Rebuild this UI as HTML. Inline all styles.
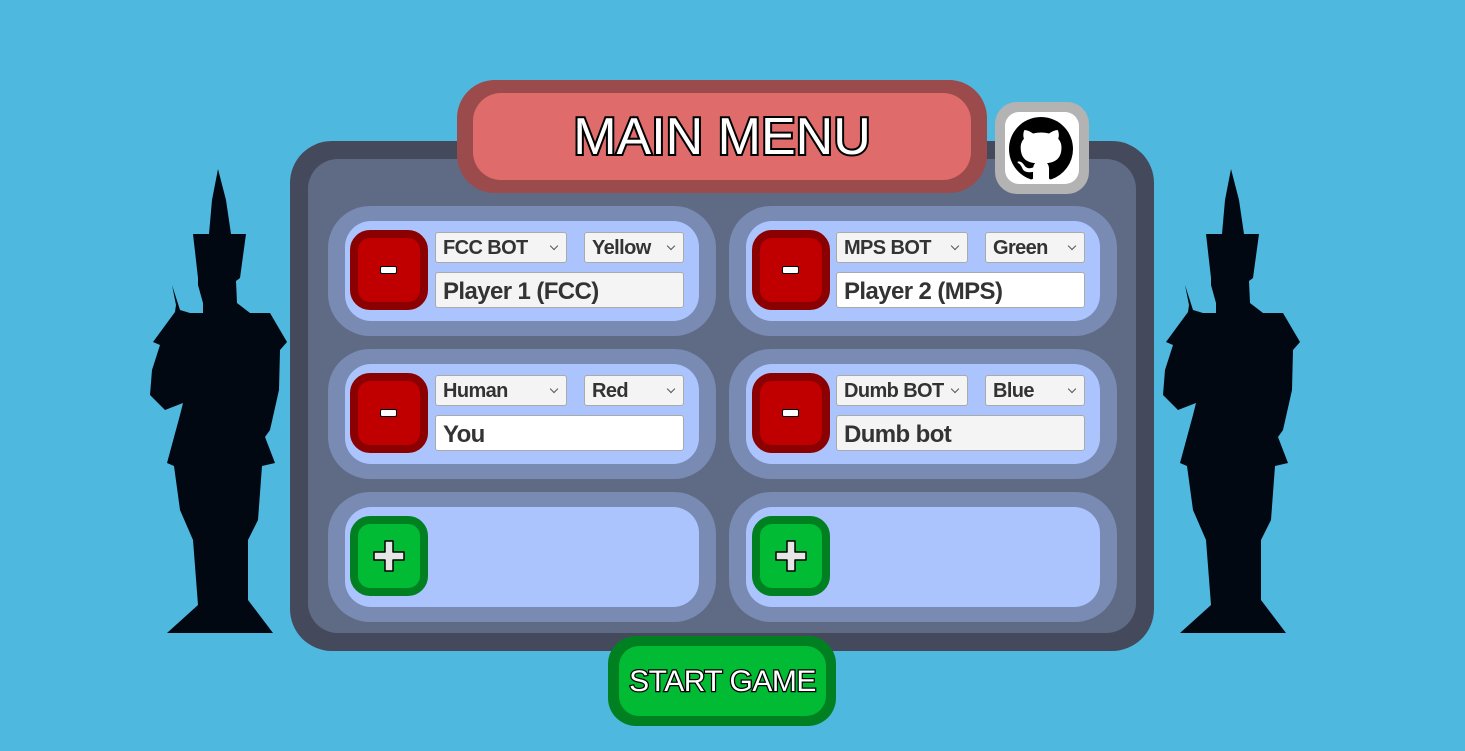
<!DOCTYPE html>
<html><head><meta charset="utf-8"><style>
*{margin:0;padding:0;box-sizing:border-box}
body{width:1465px;height:751px;background:#4fb8de;position:relative;overflow:hidden;font-family:"Liberation Sans",sans-serif}
.a{position:absolute}
.card{position:absolute;width:388px;height:130px;background:#798ab3;border-radius:42px}
.cin{position:absolute;left:17px;top:15px;width:354px;height:100px;background:#abc4fd;border-radius:26px}
.btn{position:absolute;left:5px;top:9px;width:78px;height:80px;border-radius:20px;border:8px solid #8b0000;background:#c00000}
.minus{position:absolute;left:22px;top:28px;width:17px;height:8px;background:#fff;border:1.5px solid #000;border-radius:2px}
.plus{border-color:#008020;background:#00bb33}
.sel{position:absolute;height:31px;background:#f4f4f4;border:1px solid #aaa;border-radius:3px;font-weight:bold;font-size:20px;color:#333;padding:5px 7px;letter-spacing:-0.6px;line-height:21px}
.sel:after{content:"";position:absolute;right:9px;top:10px;width:5px;height:5px;border-right:1px solid #555;border-bottom:1px solid #555;transform:rotate(45deg)}
.inp{position:absolute;left:90px;top:51px;width:249px;height:36px;background:#f4f4f4;border:1px solid #aaa;border-radius:3px;font-weight:bold;font-size:24px;color:#333;padding:6px 7px;letter-spacing:-0.6px;line-height:26px}
.stroke{color:#fff;-webkit-text-stroke:3px #000;paint-order:stroke fill}
</style></head><body>
<svg class="a" style="left:0;top:0" width="1465" height="751">
<defs><path id="s" d="M218,169 L226,200 L231,234 L246,234 L240,278 L236,281 L237,303 L250,313 L270,313 L287,342 L280,350 L279,390 L270,430 L265,437 L275,463 L262,466 L258,520 L248,540 L248,600 L273,633 L167,633 L198,605 L193,540 L180,510 L174,466 L167,463 L180,415 L183,403 L165,410 L150,395 L152,370 L160,345 L153,342 L175,312 L176,305 L172,285 L180,310 L190,313 L203,313 L203,303 L198,285 L198,278 L193,234 L209,234 L212,200 Z" fill="#020812"/></defs>
<use href="#s"/><use href="#s" transform="translate(1013,0)"/>
</svg>
<div class="a" style="left:290px;top:141px;width:864px;height:510px;background:#444a5c;border-radius:42px"></div>
<div class="a" style="left:308px;top:159px;width:828px;height:474px;background:#5f6a85;border-radius:30px"></div>
<div class="a" style="left:457px;top:80px;width:530px;height:113px;background:#9b4b4b;border-radius:38px"></div>
<div class="a stroke" style="left:473px;top:93px;width:498px;height:87px;background:#e06b6b;border-radius:28px;font-size:52px;text-align:center;line-height:88px;-webkit-text-stroke:4px #000">MAIN MENU</div>
<div class="a" style="left:995px;top:102px;width:94px;height:92px;background:#b3b3b3;border-radius:22px"></div>
<div class="a" style="left:1005px;top:112px;width:74px;height:72px;background:#fff;border-radius:14px"></div>
<svg class="a" style="left:1009px;top:117px" width="64" height="64" viewBox="0 0 16 16"><path fill="#000" d="M8 0C3.58 0 0 3.58 0 8c0 3.54 2.290 6.53 5.47 7.59.4.07.55-.17.55-.38 0-.19-.01-.82-.01-1.49-2.010.37-2.530-.49-2.690-.94-.09-.23-.48-.94-.82-1.130-.28-.15-.68-.52-.01-.53.63-.01 1.080.58 1.230.82.72 1.210 1.870.87 2.330.66.07-.52.28-.87.51-1.070-1.780-.2-3.640-.89-3.640-3.950 0-.87.31-1.590.82-2.150-.08-.2-.36-1.020.08-2.120 0 0 .67-.21 2.200.82.64-.18 1.320-.27 2-.27.68 0 1.360.09 2 .27 1.530-1.040 2.200-.82 2.200-.82.44 1.100.16 1.920.08 2.120.51.56.82 1.270.82 2.150 0 3.070-1.870 3.750-3.650 3.950.29.25.54.73.54 1.480 0 1.070-.01 1.930-.01 2.200 0 .21.15.46.55.38A8.013 8.013 0 0016 8c0-4.420-3.580-8-8-8z"/></svg>

<div class="card" style="left:328px;top:206px"><div class="cin">
<div class="btn"><div class="minus"></div></div>
<div class="sel" style="left:90px;top:11px;width:132px">FCC BOT</div>
<div class="sel" style="left:239px;top:11px;width:100px">Yellow</div>
<div class="inp">Player 1 (FCC)</div></div></div>
<div class="card" style="left:729px;top:206px"><div class="cin">
<div class="btn" style="left:6px"><div class="minus"></div></div>
<div class="sel" style="left:90px;top:11px;width:132px">MPS BOT</div>
<div class="sel" style="left:239px;top:11px;width:100px">Green</div>
<div class="inp" style="background:#fff">Player 2 (MPS)</div></div></div>
<div class="card" style="left:328px;top:349px"><div class="cin">
<div class="btn"><div class="minus"></div></div>
<div class="sel" style="left:90px;top:11px;width:132px">Human</div>
<div class="sel" style="left:239px;top:11px;width:100px">Red</div>
<div class="inp" style="background:#fff">You</div></div></div>
<div class="card" style="left:729px;top:349px"><div class="cin">
<div class="btn" style="left:6px"><div class="minus"></div></div>
<div class="sel" style="left:90px;top:11px;width:132px">Dumb BOT</div>
<div class="sel" style="left:239px;top:11px;width:100px">Blue</div>
<div class="inp">Dumb bot</div></div></div>
<div class="card" style="left:328px;top:492px"><div class="cin">
<div class="btn plus"><svg class="a" style="left:13px;top:14px" width="36" height="36"><path d="M14,3h8v11h11v8h-11v11h-8v-11h-11v-8h11z" fill="#e6e6e6" stroke="#000" stroke-width="1.5" stroke-linejoin="round"/></svg></div></div></div>
<div class="card" style="left:729px;top:492px"><div class="cin">
<div class="btn plus" style="left:6px"><svg class="a" style="left:13px;top:14px" width="36" height="36"><path d="M14,3h8v11h11v8h-11v11h-8v-11h-11v-8h11z" fill="#e6e6e6" stroke="#000" stroke-width="1.5" stroke-linejoin="round"/></svg></div></div></div>

<div class="a" style="left:608px;top:636px;width:228px;height:90px;background:#008020;border-radius:28px"></div>
<div class="a stroke" style="left:619px;top:646px;width:207px;height:70px;background:#00bb33;border-radius:20px;font-size:30px;text-align:center;line-height:72px;letter-spacing:-0.5px;-webkit-text-stroke:2.5px #000">START GAME</div>
</body></html>
